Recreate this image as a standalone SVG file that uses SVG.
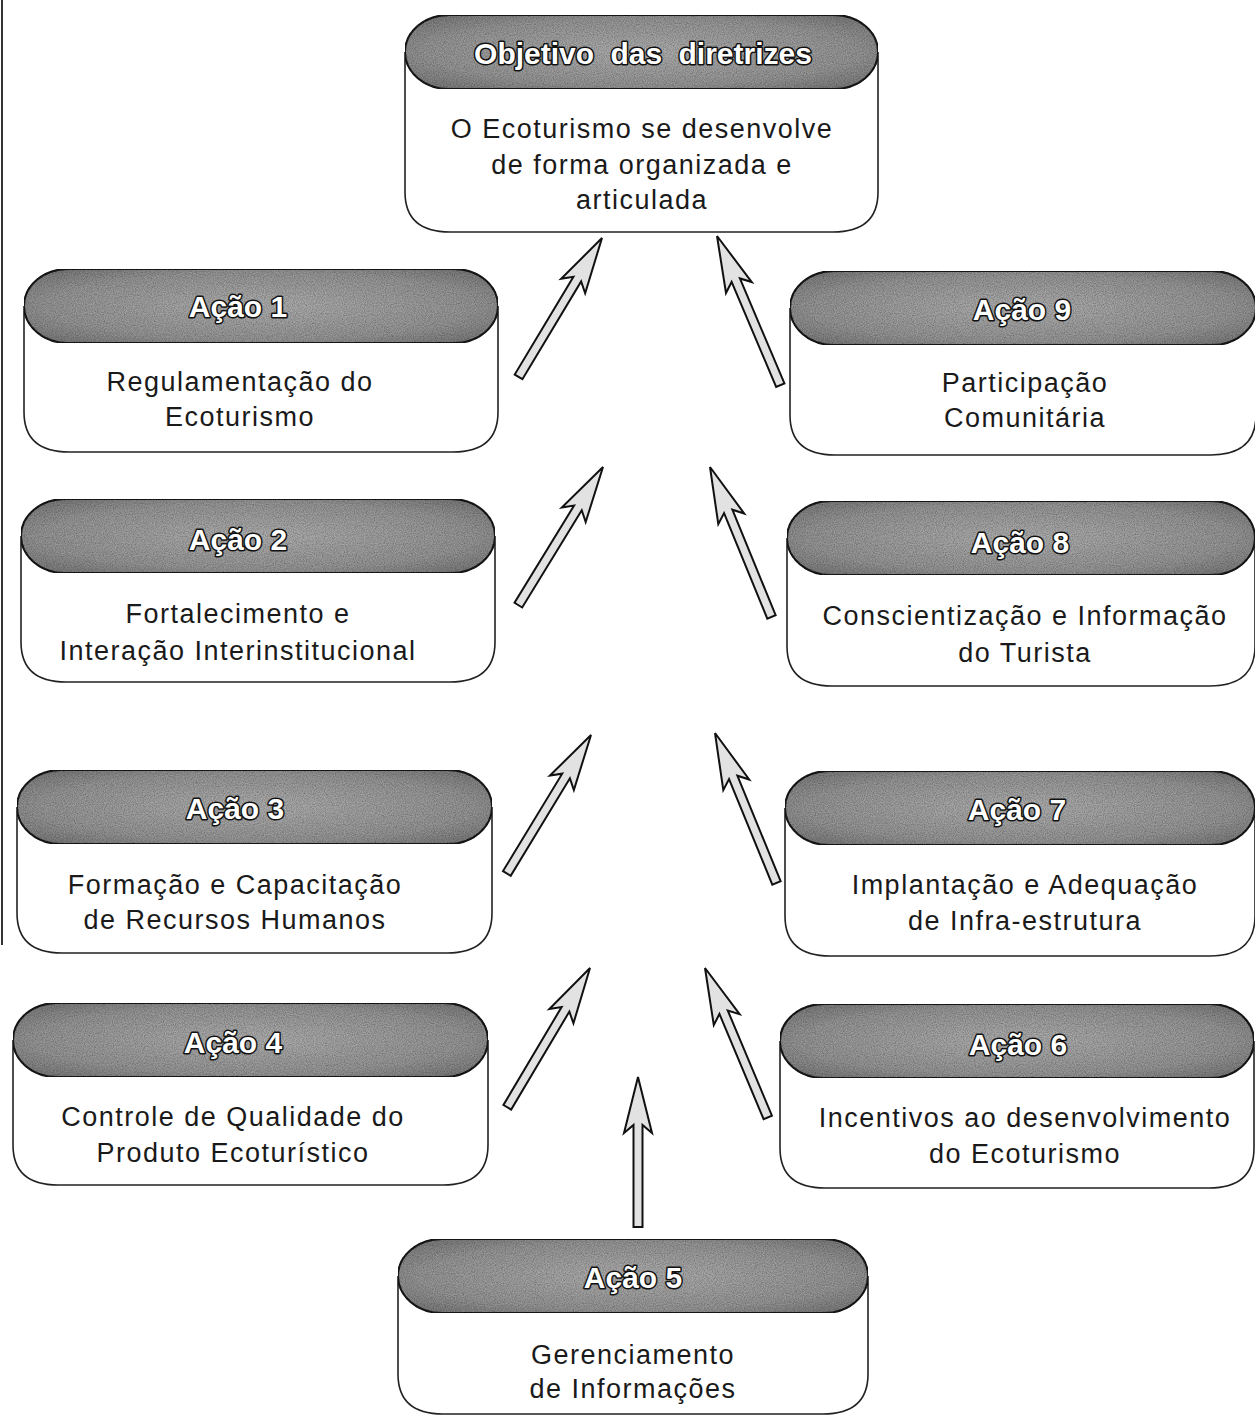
<svg xmlns="http://www.w3.org/2000/svg" xmlns:xlink="http://www.w3.org/1999/xlink" width="1255" height="1416" viewBox="0 0 1255 1416">
<defs>
<radialGradient id="hg" cx="0.5" cy="0.5" r="0.65">
<stop offset="0" stop-color="#b0b0b0"/>
<stop offset="0.7" stop-color="#979797"/>
<stop offset="1" stop-color="#7a7a7a"/>
</radialGradient>
<filter id="grain" x="0" y="0" width="1" height="1">
<feTurbulence type="fractalNoise" baseFrequency="0.9" numOctaves="2" seed="3" result="n"/>
<feColorMatrix in="n" type="matrix" values="0 0 0 0 0  0 0 0 0 0  0 0 0 0 0  0 0 0 0.9 -0.25" result="d"/>
<feComposite in="d" in2="SourceGraphic" operator="in" result="dm"/>
<feMerge><feMergeNode in="SourceGraphic"/><feMergeNode in="dm"/></feMerge>
</filter>
<path id="arrD" d="M0,0 L14,56 L4.5,48 L4.5,162 L-4.5,162 L-4.5,48 L-14,56 Z"/>
<path id="arrC" d="M0,0 L14,56 L4.5,48 L4.5,150 L-4.5,150 L-4.5,48 L-14,56 Z"/>
</defs>
<style>
.body{fill:#fff;stroke:#222;stroke-width:1.6}
.hdr{fill:url(#hg);stroke:#1a1a1a;stroke-width:2}
.ht{font-family:"Liberation Sans",Arial,sans-serif;font-weight:bold;font-size:30px;fill:#fff;stroke:#111;stroke-width:3;paint-order:stroke;stroke-linejoin:round;text-anchor:middle}
.bt{font-family:"Liberation Sans",Arial,sans-serif;font-size:27px;fill:#1a1a1a;text-anchor:middle;letter-spacing:1.5px}
.arrow{fill:#e2e2e2;stroke:#111;stroke-width:2;stroke-linejoin:miter}
</style>
<rect x="0" y="0" width="1255" height="1416" fill="#fff"/>
<line x1="2" y1="0" x2="2" y2="945" stroke="#333" stroke-width="2"/>

<g id="objetivo">
<path class="body" d="M405,52 V192 Q405,232 450,232 H833 Q878,232 878,192 V52"/>
<rect class="hdr" filter="url(#grain)" x="405" y="15" width="473" height="74" rx="44" ry="37"/>
<text class="ht" x="643" y="64" word-spacing="8">Objetivo das diretrizes</text>
<text class="bt" x="642" y="138">O Ecoturismo se desenvolve</text>
<text class="bt" x="642" y="174">de forma organizada e</text>
<text class="bt" x="642" y="209">articulada</text>
</g>

<g id="acao1">
<path class="body" d="M24,306 V412 Q24,452 69,452 H453 Q498,452 498,412 V306"/>
<rect class="hdr" filter="url(#grain)" x="24" y="269" width="474" height="74" rx="44" ry="37"/>
<text class="ht" x="238" y="317">Ação 1</text>
<text class="bt" x="240" y="391">Regulamentação do</text>
<text class="bt" x="240" y="426">Ecoturismo</text>
</g>

<g id="acao2">
<path class="body" d="M21,536 V642 Q21,682 66,682 H450 Q495,682 495,642 V536"/>
<rect class="hdr" filter="url(#grain)" x="21" y="499" width="474" height="74" rx="44" ry="37"/>
<text class="ht" x="238" y="550">Ação 2</text>
<text class="bt" x="238" y="623">Fortalecimento e</text>
<text class="bt" x="238" y="660">Interação Interinstitucional</text>
</g>

<g id="acao3">
<path class="body" d="M17,807 V913 Q17,953 62,953 H447 Q492,953 492,913 V807"/>
<rect class="hdr" filter="url(#grain)" x="17" y="770" width="475" height="74" rx="44" ry="37"/>
<text class="ht" x="235" y="819">Ação 3</text>
<text class="bt" x="235" y="894">Formação e Capacitação</text>
<text class="bt" x="235" y="929">de Recursos Humanos</text>
</g>

<g id="acao4">
<path class="body" d="M13,1040 V1145 Q13,1185 58,1185 H443 Q488,1185 488,1145 V1040"/>
<rect class="hdr" filter="url(#grain)" x="13" y="1003" width="475" height="74" rx="44" ry="37"/>
<text class="ht" x="233" y="1053">Ação 4</text>
<text class="bt" x="233" y="1126">Controle de Qualidade do</text>
<text class="bt" x="233" y="1162">Produto Ecoturístico</text>
</g>

<g id="acao5">
<path class="body" d="M398,1276 V1374 Q398,1414 443,1414 H823 Q868,1414 868,1374 V1276"/>
<rect class="hdr" filter="url(#grain)" x="398" y="1239" width="470" height="74" rx="44" ry="37"/>
<text class="ht" x="633" y="1288">Ação 5</text>
<text class="bt" x="633" y="1364">Gerenciamento</text>
<text class="bt" x="633" y="1398">de Informações</text>
</g>

<g id="acao6">
<path class="body" d="M780,1041 V1148 Q780,1188 825,1188 H1209 Q1254,1188 1254,1148 V1041"/>
<rect class="hdr" filter="url(#grain)" x="780" y="1004" width="474" height="74" rx="44" ry="37"/>
<text class="ht" x="1018" y="1055">Ação 6</text>
<text class="bt" x="1025" y="1127">Incentivos ao desenvolvimento</text>
<text class="bt" x="1025" y="1163">do Ecoturismo</text>
</g>

<g id="acao7">
<path class="body" d="M785,808 V916 Q785,956 830,956 H1210 Q1255,956 1255,916 V808"/>
<rect class="hdr" filter="url(#grain)" x="785" y="771" width="470" height="74" rx="44" ry="37"/>
<text class="ht" x="1017" y="820">Ação 7</text>
<text class="bt" x="1025" y="894">Implantação e Adequação</text>
<text class="bt" x="1025" y="930">de Infra-estrutura</text>
</g>

<g id="acao8">
<path class="body" d="M787,538 V646 Q787,686 832,686 H1210 Q1255,686 1255,646 V538"/>
<rect class="hdr" filter="url(#grain)" x="787" y="501" width="468" height="74" rx="44" ry="37"/>
<text class="ht" x="1020" y="553">Ação 8</text>
<text class="bt" x="1025" y="625">Conscientização e Informação</text>
<text class="bt" x="1025" y="662">do Turista</text>
</g>

<g id="acao9">
<path class="body" d="M790,308 V415 Q790,455 835,455 H1211 Q1256,455 1256,415 V308"/>
<rect class="hdr" filter="url(#grain)" x="790" y="271" width="466" height="74" rx="44" ry="37"/>
<text class="ht" x="1022" y="320">Ação 9</text>
<text class="bt" x="1025" y="392">Participação</text>
<text class="bt" x="1025" y="427">Comunitária</text>
</g>

<g id="connectors">
<use class="arrow" xlink:href="#arrD" href="#arrD" transform="translate(602,238) rotate(31)"/>
<use class="arrow" xlink:href="#arrD" href="#arrD" transform="translate(603,467) rotate(31.5)"/>
<use class="arrow" xlink:href="#arrD" href="#arrD" transform="translate(591,735) rotate(31.3)"/>
<use class="arrow" xlink:href="#arrD" href="#arrD" transform="translate(590,968) rotate(30.7)"/>
<use class="arrow" xlink:href="#arrD" href="#arrD" transform="translate(717,236) rotate(-23)"/>
<use class="arrow" xlink:href="#arrD" href="#arrD" transform="translate(710,467) rotate(-22.3)"/>
<use class="arrow" xlink:href="#arrD" href="#arrD" transform="translate(715,733) rotate(-22.3)"/>
<use class="arrow" xlink:href="#arrD" href="#arrD" transform="translate(705,968) rotate(-22.8)"/>
<use class="arrow" xlink:href="#arrC" href="#arrC" transform="translate(638,1077)"/>
</g>
</svg>
